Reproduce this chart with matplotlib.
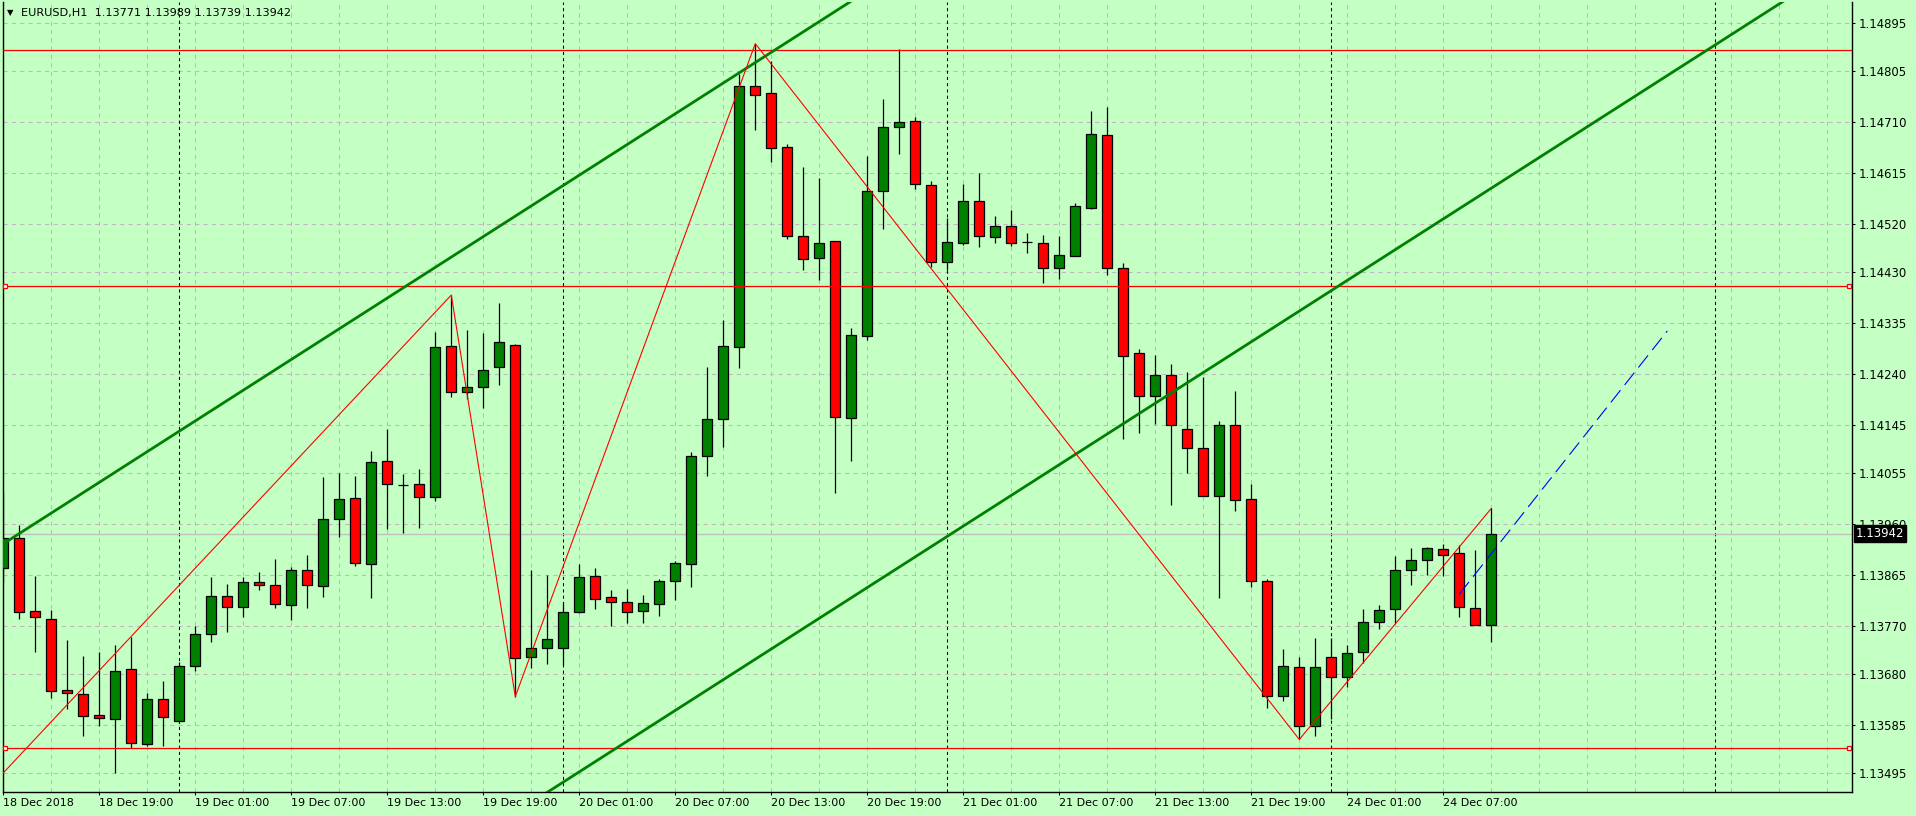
import matplotlib
matplotlib.use('Agg')
import matplotlib.pyplot as plt
import matplotlib.transforms as mtransforms
import numpy as np

# ---------------- data ----------------
symbol_title = "EURUSD,H1  1.13771 1.13989 1.13739 1.13942"

opens = [
    1.13877, 1.13933, 1.13797, 1.13782, 1.13650, 1.13642, 1.13603, 1.13596, 1.13689, 1.13549,
    1.13633, 1.13592, 1.13695, 1.13754, 1.13825, 1.13805, 1.13851, 1.13846, 1.13808, 1.13874,
    1.13844, 1.13969, 1.14008, 1.13885, 1.14077, 1.14033, 1.14034, 1.14010, 1.14291, 1.14206,
    1.14215, 1.14252, 1.14293, 1.13712, 1.13729, 1.13729, 1.13796, 1.13863, 1.13823, 1.13814,
    1.13798, 1.13810, 1.13854, 1.13885, 1.14087, 1.14155, 1.14290, 1.14776, 1.14764, 1.14663,
    1.14497, 1.14456, 1.14487, 1.14157, 1.14310, 1.14581, 1.14700, 1.14711, 1.14592, 1.14448,
    1.14484, 1.14562, 1.14495, 1.14515, 1.14485, 1.14484, 1.14437, 1.14459, 1.14550, 1.14685,
    1.14437, 1.14278, 1.14198, 1.14237, 1.14138, 1.14101, 1.14013, 1.14144, 1.14006, 1.13853,
    1.13639, 1.13693, 1.13583, 1.13711, 1.13674, 1.13721, 1.13777, 1.13801, 1.13874, 1.13892,
    1.13913, 1.13905, 1.13803, 1.13771]
highs = [
    1.14020, 1.13958, 1.13862, 1.13800, 1.13744, 1.13714, 1.13721, 1.13734, 1.13749, 1.13644,
    1.13667, 1.13703, 1.13770, 1.13861, 1.13848, 1.13861, 1.13870, 1.13895, 1.13879, 1.13902,
    1.14048, 1.14055, 1.14049, 1.14096, 1.14137, 1.14053, 1.14063, 1.14318, 1.14387, 1.14322,
    1.14317, 1.14372, 1.14296, 1.13875, 1.13865, 1.13814, 1.13885, 1.13877, 1.13837, 1.13838,
    1.13827, 1.13857, 1.13890, 1.14094, 1.14253, 1.14340, 1.14800, 1.14856, 1.14824, 1.14668,
    1.14626, 1.14605, 1.14487, 1.14326, 1.14646, 1.14752, 1.14845, 1.14719, 1.14599, 1.14530,
    1.14594, 1.14614, 1.14534, 1.14546, 1.14503, 1.14499, 1.14497, 1.14559, 1.14730, 1.14738,
    1.14446, 1.14287, 1.14275, 1.14258, 1.14243, 1.14234, 1.14152, 1.14208, 1.14035, 1.13857,
    1.13727, 1.13712, 1.13747, 1.13747, 1.13734, 1.13801, 1.13809, 1.13901, 1.13915, 1.13917,
    1.13923, 1.13921, 1.13911, 1.13989]
lows = [
    1.13852, 1.13783, 1.13722, 1.13636, 1.13615, 1.13565, 1.13584, 1.13496, 1.13542, 1.13545,
    1.13545, 1.13588, 1.13686, 1.13740, 1.13759, 1.13787, 1.13837, 1.13803, 1.13780, 1.13804,
    1.13824, 1.13936, 1.13882, 1.13821, 1.13951, 1.13944, 1.13953, 1.14003, 1.14196, 1.14193,
    1.14177, 1.14220, 1.13638, 1.13691, 1.13699, 1.13697, 1.13793, 1.13801, 1.13770, 1.13775,
    1.13775, 1.13789, 1.13819, 1.13842, 1.14050, 1.14104, 1.14250, 1.14694, 1.14636, 1.14492,
    1.14434, 1.14415, 1.14018, 1.14078, 1.14304, 1.14511, 1.14651, 1.14585, 1.14440, 1.14434,
    1.14481, 1.14476, 1.14484, 1.14479, 1.14466, 1.14410, 1.14416, 1.14459, 1.14548, 1.14424,
    1.14118, 1.14130, 1.14147, 1.13996, 1.14055, 1.14013, 1.13821, 1.13984, 1.13843, 1.13617,
    1.13630, 1.13558, 1.13565, 1.13597, 1.13655, 1.13700, 1.13764, 1.13775, 1.13847, 1.13865,
    1.13863, 1.13787, 1.13771, 1.13739]
closes = [
    1.13933, 1.13795, 1.13786, 1.13648, 1.13644, 1.13601, 1.13598, 1.13685, 1.13551, 1.13633,
    1.13599, 1.13695, 1.13754, 1.13825, 1.13806, 1.13851, 1.13847, 1.13810, 1.13874, 1.13846,
    1.13969, 1.14006, 1.13887, 1.14075, 1.14034, 1.14033, 1.14010, 1.14290, 1.14207, 1.14215,
    1.14247, 1.14299, 1.13710, 1.13729, 1.13745, 1.13796, 1.13861, 1.13820, 1.13814, 1.13796,
    1.13812, 1.13854, 1.13887, 1.14087, 1.14155, 1.14292, 1.14776, 1.14761, 1.14661, 1.14498,
    1.14454, 1.14484, 1.14159, 1.14312, 1.14581, 1.14700, 1.14709, 1.14595, 1.14448, 1.14485,
    1.14562, 1.14497, 1.14515, 1.14484, 1.14485, 1.14437, 1.14462, 1.14554, 1.14687, 1.14438,
    1.14274, 1.14198, 1.14237, 1.14144, 1.14102, 1.14013, 1.14145, 1.14005, 1.13853, 1.13639,
    1.13695, 1.13583, 1.13693, 1.13674, 1.13719, 1.13778, 1.13799, 1.13874, 1.13892, 1.13915,
    1.13903, 1.13805, 1.13771, 1.13942]

xtick_bars = [0, 6, 12, 18, 24, 30, 36, 42, 48, 54, 60, 66, 72, 78, 84, 90]
xtick_labels = ["18 Dec 2018", "18 Dec 19:00", "19 Dec 01:00", "19 Dec 07:00", "19 Dec 13:00",
                "19 Dec 19:00", "20 Dec 01:00", "20 Dec 07:00", "20 Dec 13:00", "20 Dec 19:00",
                "21 Dec 01:00", "21 Dec 07:00", "21 Dec 13:00", "21 Dec 19:00", "24 Dec 01:00",
                "24 Dec 07:00"]
ytick_labels = ["1.14895", "1.14805", "1.14710", "1.14615", "1.14520", "1.14430", "1.14335",
                "1.14240", "1.14145", "1.14055", "1.13960", "1.13865", "1.13770", "1.13680",
                "1.13585", "1.13495"]
day_separator_bars = [11, 35, 59, 83, 107]

zigzag_bars = [-2, 28, 32, 47, 81, 93]
zigzag_prices = [1.13432, 1.14387, 1.13638, 1.14856, 1.13558, 1.13989]

hlines_prices = [1.14844, 1.14404, 1.13543]
hlines_with_marks = [False, True, True]

channel_upper = [(0, 1.13923), (50, 1.14878)]
channel_lower = [(40, 1.13574), (100, 1.14720)]
blue_line = [(91, 1.13829), (104, 1.14320)]
current_price = 1.13942

# ---------------- style / layout ----------------
W, H, DPI = 1916, 816, 100
BG = '#C4FFC4'
GRID = '#C3B5C3'
plt.rcParams['font.family'] = ['DejaVu Sans']

fig = plt.figure(figsize=(W / DPI, H / DPI), dpi=DPI, facecolor=BG)
ax_left, ax_right, ax_top, ax_bot = 2.7, 1852.0, 2.0, 792.0
ax = fig.add_axes([ax_left / W, (H - ax_bot) / H, (ax_right - ax_left) / W, (ax_bot - ax_top) / H])
ax.set_facecolor(BG)

px = 16.0  # pixels per bar
x0 = (ax_left - 3.3) / px
x1 = (ax_right - 3.3) / px
ax.set_xlim(x0, x1)
ax.set_ylim(1.134600, 1.149336)

# grid
for b in range(0, int(x1) + 1, 3):
    ax.axvline(b, color=GRID, lw=0.75, linestyle=(0, (4, 4)), zorder=1)
yvals = [float(s) for s in ytick_labels]
for v in yvals:
    ax.axhline(v, color=GRID, lw=0.75, linestyle=(0, (4, 4)), zorder=1)

# day separators
for b in day_separator_bars:
    ax.axvline(b, color='black', lw=0.75, linestyle=(0, (3, 3)), zorder=1.5)

# current price line
ax.axhline(current_price, color='#C0C0C0', lw=1.0, zorder=2)

# candles
o = np.array(opens); h = np.array(highs); l = np.array(lows); c = np.array(closes)
idx = np.arange(len(o))
up = c >= o
ax.vlines(idx, l, h, color='black', lw=0.9, zorder=3)
bb = np.minimum(o, c)
bh = np.abs(c - o)
ax.bar(idx[up], bh[up], bottom=bb[up], width=0.64, color='#008000', edgecolor='black',
       linewidth=0.9, zorder=4)
ax.bar(idx[~up], bh[~up], bottom=bb[~up], width=0.64, color='#FF0000', edgecolor='black',
       linewidth=0.9, zorder=4)

# horizontal lines
for p, mk in zip(hlines_prices, hlines_with_marks):
    ax.axhline(p, color='red', lw=0.9, zorder=5)
    if mk:
        ax.plot([x0 + 2.6 / px, x1 - 2.6 / px], [p, p], linestyle='none', marker='s', ms=3.2,
                mfc='white', mec='red', mew=0.9, zorder=7, clip_on=False)

# channel trend lines (rays)
for (b1, p1), (b2, p2) in [channel_upper, channel_lower]:
    slope = (p2 - p1) / (b2 - b1)
    xs = np.array([min(b1, 20), x1 + 1])
    ax.plot(xs, p1 + slope * (xs - b1), color='#008000', lw=2.0, zorder=6, solid_capstyle='butt')

# zigzag
ax.plot(zigzag_bars, zigzag_prices, color='red', lw=0.8, zorder=6)

# blue projection
(bx1, bp1), (bx2, bp2) = blue_line
ax.plot([bx1, bx2], [bp1, bp2], color='blue', lw=0.8, linestyle=(0, (14, 6)), zorder=6)

# axes / ticks
ax.yaxis.tick_right()
ax.set_yticks(yvals)
ax.set_yticklabels(ytick_labels)
ax.set_xticks(xtick_bars)
ax.set_xticklabels(xtick_labels)
for t in ax.get_xticklabels():
    t.set_horizontalalignment('left')
ax.tick_params(axis='y', direction='out', length=1.8, width=0.75, pad=3.3, labelsize=8.4,
               colors='black')
ax.tick_params(axis='x', direction='out', length=2.0, width=0.75, pad=2.5, labelsize=8,
               colors='black')
for s in ax.spines.values():
    s.set_color('black')
    s.set_linewidth(1.0)
ax.spines['top'].set_visible(False)

# current price label
trans = mtransforms.blended_transform_factory(ax.transAxes, ax.transData)
ax.text(1.0 + 4 / (ax_right - ax_left), current_price, f"{current_price:.5f}", transform=trans,
        ha='left', va='center', fontsize=8.4, color='white', zorder=20, clip_on=False,
        bbox=dict(boxstyle='square,pad=0.15', fc='black', ec='black'))

# title
fig.text(7 / W, 1 - 13 / H, '\u25BC', fontsize=6, ha='left', va='center', color='black')
fig.text(21 / W, 1 - 13 / H, symbol_title, fontsize=8.1, ha='left', va='center', color='black')

fig.savefig('out.png', dpi=DPI, facecolor=BG)
